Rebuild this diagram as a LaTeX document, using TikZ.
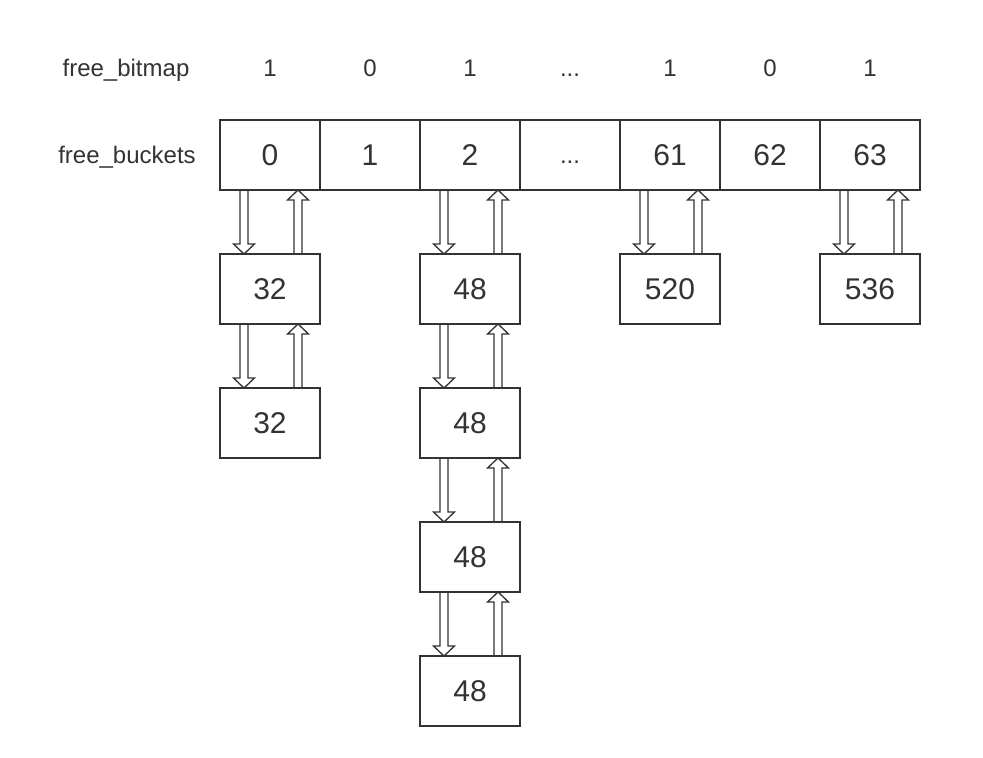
\documentclass[tikz,border=0pt]{standalone}
\usepackage{fontspec}
\setmainfont{Liberation Sans}
\usetikzlibrary{calc}
\definecolor{ink}{HTML}{333333}
\tikzset{
  cell/.style={draw=ink, line width=1.8pt, minimum width=100pt, minimum height=70pt, inner sep=0pt, outer sep=0pt, text=ink, font=\fontsize{30}{36}\selectfont},
  lbl/.style={text=ink, inner sep=0pt, anchor=base, font=\fontsize{24}{28}\selectfont},
  arr/.style={draw=ink, line width=1.3pt, line join=miter}
}
\newcommand\dnarr[3]{%
  \path ($(#1.south west)+(#3,0)$) coordinate (dt) ($(#2.north west)+(#3,0)$) coordinate (db);
  \draw[arr] ($(dt)+(-4,0)$) -- ($(db)+(-4,-10)$) -- ($(db)+(-10.5,-10)$) -- (db) -- ($(db)+(10.5,-10)$) -- ($(db)+(4,-10)$) -- ($(dt)+(4,0)$);}
\newcommand\uparr[3]{%
  \path ($(#1.south west)+(#3,0)$) coordinate (ut) ($(#2.north west)+(#3,0)$) coordinate (ub);
  \draw[arr] ($(ub)+(-4,0)$) -- ($(ut)+(-4,10)$) -- ($(ut)+(-10.5,10)$) -- (ut) -- ($(ut)+(10.5,10)$) -- ($(ut)+(4,10)$) -- ($(ub)+(4,0)$);}
\newcommand\link[2]{\dnarr{#1}{#2}{24}\uparr{#1}{#2}{78}}
\begin{document}
\begin{tikzpicture}[x=1pt,y=-1pt]
\useasboundingbox (0,0) rectangle (983,758);
\fill[white] (0,0) rectangle (983,758);
% labels
\node[lbl] (lbm) at (126,76) {free\_bitmap};
\node[lbl] (lbk) at (127,163) {free\_buckets};
% bitmap values
\node[lbl] (v0) at (270,76) {1};
\node[lbl] (v1) at (370,76) {0};
\node[lbl] (v2) at (470,76) {1};
\node[lbl] (v3) at (570,76) {.\kern0pt.\kern0pt.};
\node[lbl] (v4) at (670,76) {1};
\node[lbl] (v5) at (770,76) {0};
\node[lbl] (v6) at (870,76) {1};
% bucket row
\node[cell] (b0) at (270,155) {0};
\node[cell] (b1) at (370,155) {1};
\node[cell] (b2) at (470,155) {2};
\node[cell] (b3) at (570,155) {};
\node[lbl] (b3t) at (570,163) {.\kern0pt.\kern0pt.};
\node[cell] (b4) at (670,155) {61};
\node[cell] (b5) at (770,155) {62};
\node[cell] (b6) at (870,155) {63};
% chains
\node[cell] (c01) at (270,289) {32};
\node[cell] (c02) at (270,423) {32};
\node[cell] (c21) at (470,289) {48};
\node[cell] (c22) at (470,423) {48};
\node[cell] (c23) at (470,557) {48};
\node[cell] (c24) at (470,691) {48};
\node[cell] (c41) at (670,289) {520};
\node[cell] (c61) at (870,289) {536};
% links
\link{b0}{c01}
\link{c01}{c02}
\link{b2}{c21}
\link{c21}{c22}
\link{c22}{c23}
\link{c23}{c24}
\link{b4}{c41}
\link{b6}{c61}
\end{tikzpicture}
\end{document}
